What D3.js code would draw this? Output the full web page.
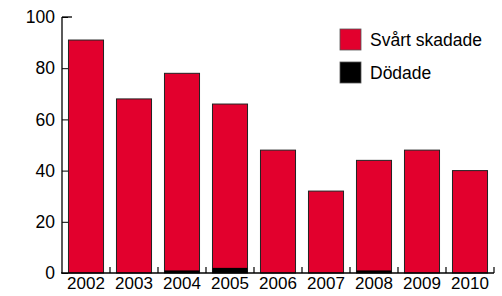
<!DOCTYPE html>
<html>
  <head>
    <meta charset="utf-8">
    <title>Svårt skadade och dödade</title>
    <script src="https://cdn.jsdelivr.net/npm/d3@7"></script>
    <style>
      body { margin: 0; background: #fff; }
      text { font-family: "Liberation Sans", Arial, sans-serif; fill: #000; }
    </style>
  </head>
  <body>
    <svg id="chart" width="502" height="296"></svg>

    <script>
      // data
      const years = ["2002", "2003", "2004", "2005", "2006", "2007", "2008", "2009", "2010"];
      const svartSkadade = [91, 68, 77, 64, 48, 32, 43, 48, 40];
      const dodade = [0, 0, 1, 2, 0, 0, 1, 0, 0];
      const yTicks = [0, 20, 40, 60, 80, 100];
      const seriesNames = ["Svårt skadade", "Dödade"];

      const red = "#e2002d";
      const width = 502, height = 296;
      const margin = {top: 17, right: 8, bottom: 23, left: 62};

      const chart = d3.select("#chart");

      const x = d3.scaleBand()
          .domain(years)
          .range([margin.left, width - margin.right])
          .paddingInner(0.27)
          .paddingOuter(0.135);

      const y = d3.scaleLinear()
          .domain([0, 100])
          .range([height - margin.bottom, margin.top]);

      // bars: black (Dödade) at bottom, red stacked on top
      const rows = years.map((yr, i) => ({year: yr, d: dodade[i], s: svartSkadade[i]}));

      const bars = chart.append("g");
      bars.selectAll("rect.red")
        .data(rows)
        .join("rect")
          .attr("class", "red")
          .attr("x", d => x(d.year))
          .attr("width", x.bandwidth())
          .attr("y", d => y(d.d + d.s))
          .attr("height", d => y(0) - y(d.d + d.s))
          .attr("fill", red)
          .attr("stroke", "#222")
          .attr("stroke-width", 1);

      bars.selectAll("rect.black")
        .data(rows.filter(d => d.d > 0))
        .join("rect")
          .attr("class", "black")
          .attr("x", d => x(d.year))
          .attr("width", x.bandwidth())
          .attr("y", d => y(d.d))
          .attr("height", d => y(0) - y(d.d))
          .attr("fill", "#000");

      // y axis
      const yAxis = d3.axisLeft(y)
          .tickValues(yTicks)
          .tickSize(-6)
          .tickPadding(12);

      const yg = chart.append("g")
          .attr("transform", "translate(" + margin.left + ",0)")
          .call(yAxis);
      yg.select(".domain").remove();
      yg.append("line")
          .attr("x1", 0).attr("x2", 0)
          .attr("y1", y(100)).attr("y2", y(0))
          .attr("stroke", "#000").attr("stroke-width", 1.3);
      yg.append("line")
          .attr("x1", 0).attr("x2", 10)
          .attr("y1", y(100)).attr("y2", y(100))
          .attr("stroke", "#000").attr("stroke-width", 1.3);
      yg.selectAll(".tick line").attr("stroke", "#000");
      yg.selectAll(".tick text")
          .attr("x", -7)
          .style("font-size", "17.5px")
          .style("font-family", "'Liberation Sans', Arial, sans-serif");

      // x axis
      const xAxis = d3.axisBottom(x).tickSize(0).tickPadding(4);
      const xg = chart.append("g")
          .attr("transform", "translate(0," + y(0) + ")")
          .call(xAxis);
      xg.select(".domain").remove();
      xg.selectAll(".tick text")
          .style("font-size", "17px")
          .style("font-family", "'Liberation Sans', Arial, sans-serif");
      xg.append("line")
          .attr("x1", margin.left - 1).attr("x2", width - margin.right)
          .attr("y1", 0).attr("y2", 0)
          .attr("stroke", "#000").attr("stroke-width", 1.5);

      // boundary ticks between categories
      const step = x.step();
      const bounds = years.slice(1).map(yr => x(yr) - (step - x.bandwidth()) / 2);
      bounds.push(width - margin.right);
      xg.selectAll("line.sep")
        .data(bounds)
        .join("line")
          .attr("class", "sep")
          .attr("x1", d => d).attr("x2", d => d)
          .attr("y1", 0).attr("y2", -6)
          .attr("stroke", "#000").attr("stroke-width", 1.2);

      // legend
      const legend = chart.append("g").attr("transform", "translate(340,29)");
      const colors = [red, "#000"];
      seriesNames.forEach((name, i) => {
        const g = legend.append("g").attr("transform", "translate(0," + (i * 33) + ")");
        g.append("rect")
            .attr("width", 21).attr("height", 21)
            .attr("fill", colors[i])
            .attr("stroke", "#555").attr("stroke-width", 0.8);
        g.append("text")
            .attr("x", 30).attr("y", 16.5)
            .style("font-size", "17.5px")
            .text(name);
      });
    </script>
  </body>
</html>
